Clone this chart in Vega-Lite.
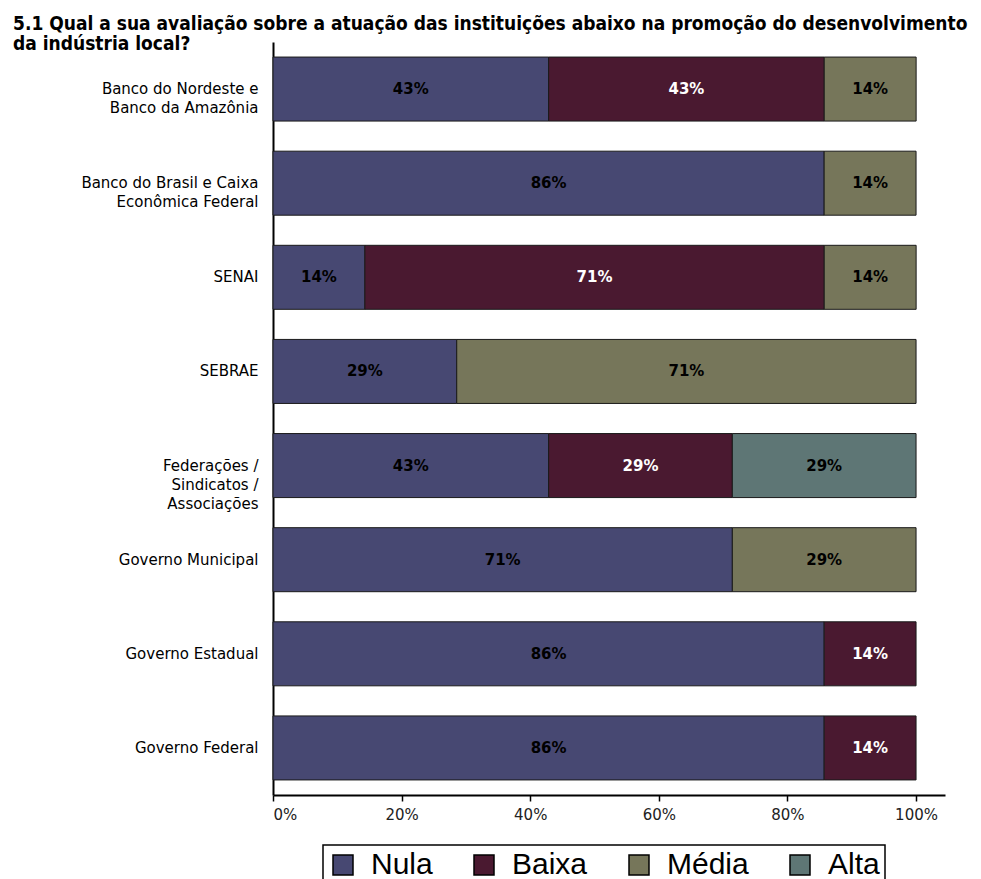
{
  "$schema": "https://vega.github.io/schema/vega-lite/v6.json",
  "width": 672,
  "height": 753,
  "padding": {"left": 13, "top": 15, "right": 5, "bottom": 5},
  "autosize": {"type": "pad"},
  "background": "white",
  "title": {
    "text": ["5.1 Qual a sua avaliação sobre a atuação das instituições abaixo na promoção do desenvolvimento", "da indústria local?"],
    "anchor": "start",
    "frame": "group",
    "dx": -260,
    "offset": -12,
    "font": "DejaVu Sans Condensed",
    "fontSize": 19,
    "fontWeight": "bold",
    "color": "black",
    "lineHeight": 20
  },
  "data": {
    "values": [
      {"inst": "Banco do Nordeste e Banco da Amazônia", "cat": "Nula", "pct": 0.4286},
      {"inst": "Banco do Nordeste e Banco da Amazônia", "cat": "Baixa", "pct": 0.4286},
      {"inst": "Banco do Nordeste e Banco da Amazônia", "cat": "Média", "pct": 0.1429},
      {"inst": "Banco do Brasil e Caixa Econômica Federal", "cat": "Nula", "pct": 0.8571},
      {"inst": "Banco do Brasil e Caixa Econômica Federal", "cat": "Média", "pct": 0.1429},
      {"inst": "SENAI", "cat": "Nula", "pct": 0.1429},
      {"inst": "SENAI", "cat": "Baixa", "pct": 0.7143},
      {"inst": "SENAI", "cat": "Média", "pct": 0.1429},
      {"inst": "SEBRAE", "cat": "Nula", "pct": 0.2857},
      {"inst": "SEBRAE", "cat": "Média", "pct": 0.7143},
      {"inst": "Federações / Sindicatos / Associações", "cat": "Nula", "pct": 0.4286},
      {"inst": "Federações / Sindicatos / Associações", "cat": "Baixa", "pct": 0.2857},
      {"inst": "Federações / Sindicatos / Associações", "cat": "Alta", "pct": 0.2857},
      {"inst": "Governo Municipal", "cat": "Nula", "pct": 0.7143},
      {"inst": "Governo Municipal", "cat": "Média", "pct": 0.2857},
      {"inst": "Governo Estadual", "cat": "Nula", "pct": 0.8571},
      {"inst": "Governo Estadual", "cat": "Baixa", "pct": 0.1429},
      {"inst": "Governo Federal", "cat": "Nula", "pct": 0.8571},
      {"inst": "Governo Federal", "cat": "Baixa", "pct": 0.1429}
    ]
  },
  "transform": [
    {"stack": "pct", "groupby": ["inst"], "as": ["x0", "x1"]}
  ],
  "layer": [
    {
      "mark": {"type": "bar", "stroke": "#1a1a1a", "strokeWidth": 1},
      "encoding": {
        "y": {
          "field": "inst",
          "type": "nominal",
          "sort": null,
          "scale": {
            "domain": ["Banco do Nordeste e Banco da Amazônia", "Banco do Brasil e Caixa Econômica Federal", "SENAI", "SEBRAE", "Federações / Sindicatos / Associações", "Governo Municipal", "Governo Estadual", "Governo Federal"],
            "paddingInner": 0.32,
            "paddingOuter": 0.16
          },
          "axis": {
            "title": null,
            "ticks": false,
            "domainColor": "black",
            "domainWidth": 2,
            "labelFont": "DejaVu Sans",
            "labelFontSize": 15,
            "labelColor": "black",
            "labelPadding": 15,
            "labelLimit": 0,
            "labelLineHeight": 19,
            "minExtent": 260,
            "maxExtent": 260,
            "labelExpr": "datum.label == 'Banco do Nordeste e Banco da Amazônia' ? ['Banco do Nordeste e', 'Banco da Amazônia'] : datum.label == 'Banco do Brasil e Caixa Econômica Federal' ? ['Banco do Brasil e Caixa', 'Econômica Federal'] : datum.label == 'Federações / Sindicatos / Associações' ? ['Federações /', 'Sindicatos /', 'Associações'] : datum.label"
          }
        },
        "x": {
          "field": "x0",
          "type": "quantitative",
          "scale": {"domain": [0, 1.045], "nice": false, "zero": true},
          "axis": {
            "title": null,
            "grid": false,
            "values": [0, 0.2, 0.4, 0.6, 0.8, 1],
            "format": ".0%",
            "domainColor": "black",
            "domainWidth": 2,
            "tickColor": "black",
            "tickSize": 6,
            "tickWidth": 1.5,
            "labelFont": "DejaVu Sans",
            "labelFontSize": 15,
            "labelColor": "#222",
            "labelPadding": 6
          }
        },
        "x2": {"field": "x1"},
        "color": {
          "field": "cat",
          "type": "nominal",
          "scale": {"domain": ["Nula", "Baixa", "Média", "Alta"], "range": ["#474872", "#4a1930", "#76765a", "#5e7675"]},
          "legend": {
            "title": null,
            "orient": "none",
            "legendX": 50,
            "legendY": 803,
            "direction": "horizontal",
            "strokeColor": "black",
            "padding": 5,
            "symbolType": "square",
            "symbolSize": 400,
            "symbolStrokeColor": "black",
            "symbolStrokeWidth": 1.5,
            "symbolOpacity": 1,
            "labelFont": "Liberation Sans",
            "labelFontSize": 30,
            "labelColor": "black",
            "labelOffset": 13,
            "columnPadding": 36
          }
        }
      }
    },
    {
      "transform": [
        {"fold": ["x0", "x1"], "as": ["k", "v"]},
        {"aggregate": [{"op": "mean", "field": "v", "as": "mid"}], "groupby": ["inst", "cat", "pct"]}
      ],
      "mark": {"type": "text", "font": "DejaVu Sans", "fontSize": 15, "fontWeight": "bold", "align": "center", "baseline": "middle"},
      "encoding": {
        "y": {"field": "inst", "type": "nominal", "sort": null},
        "x": {"field": "mid", "type": "quantitative"},
        "text": {"field": "pct", "type": "quantitative", "format": ".0%"},
        "color": {
          "condition": {"test": "datum.cat == 'Baixa'", "value": "white"},
          "value": "black"
        }
      }
    }
  ],
  "config": {
    "view": {"stroke": null},
    "legend": {"strokeWidth": 1.5}
  }
}
